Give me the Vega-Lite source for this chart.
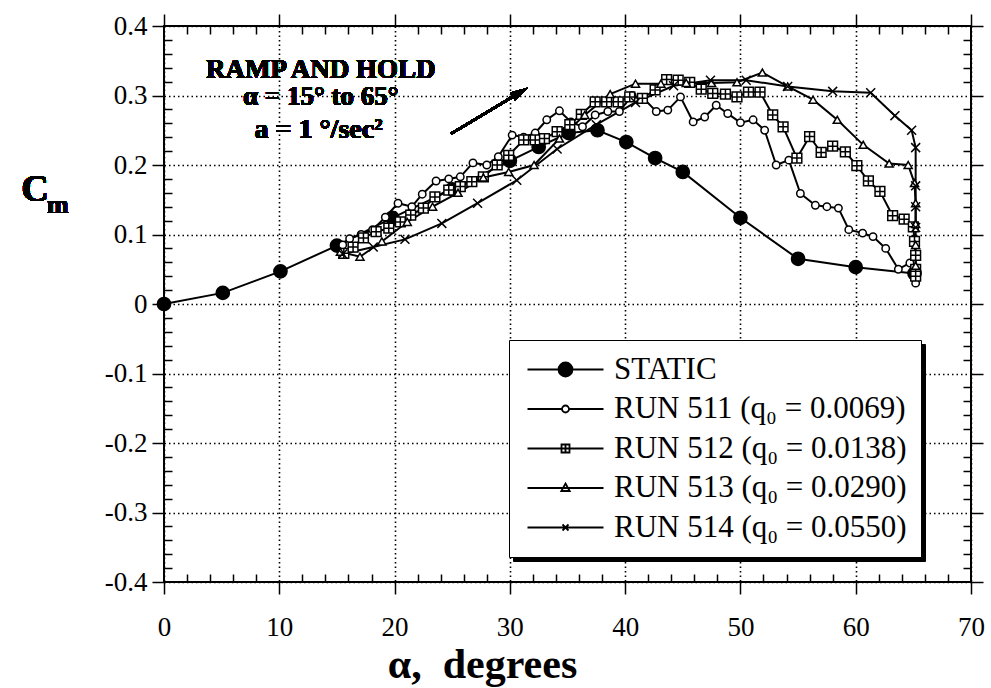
{
  "$schema": "https://vega.github.io/schema/vega-lite/v6.json",
  "width": 807,
  "height": 556,
  "autosize": {"type": "none"},
  "padding": {"left": 164, "top": 26, "right": 20, "bottom": 106},
  "background": "white",
  "config": {
    "view": {"stroke": "black", "strokeWidth": 2},
    "font": "Liberation Serif",
    "axis": {"labelFont": "Liberation Serif", "titleFont": "Liberation Serif"},
    "legend": {"labelFont": "Liberation Serif"}
  },
  "datasets": {
    "pts": [
      {"series": "STATIC", "i": 0, "alpha": 0, "cm": 0},
      {"series": "STATIC", "i": 1, "alpha": 5.1, "cm": 0.016},
      {"series": "STATIC", "i": 2, "alpha": 10.1, "cm": 0.047},
      {"series": "STATIC", "i": 3, "alpha": 15.0, "cm": 0.084},
      {"series": "STATIC", "i": 4, "alpha": 19.8, "cm": 0.124},
      {"series": "STATIC", "i": 5, "alpha": 25.0, "cm": 0.165},
      {"series": "STATIC", "i": 6, "alpha": 30.0, "cm": 0.206},
      {"series": "STATIC", "i": 7, "alpha": 32.5, "cm": 0.226},
      {"series": "STATIC", "i": 8, "alpha": 35.1, "cm": 0.246},
      {"series": "STATIC", "i": 9, "alpha": 37.6, "cm": 0.25},
      {"series": "STATIC", "i": 10, "alpha": 40.1, "cm": 0.233},
      {"series": "STATIC", "i": 11, "alpha": 42.6, "cm": 0.21},
      {"series": "STATIC", "i": 12, "alpha": 45.0, "cm": 0.19},
      {"series": "STATIC", "i": 13, "alpha": 50.0, "cm": 0.124},
      {"series": "STATIC", "i": 14, "alpha": 55.0, "cm": 0.065},
      {"series": "STATIC", "i": 15, "alpha": 60.0, "cm": 0.053},
      {"series": "STATIC", "i": 16, "alpha": 65.1, "cm": 0.044},

      {"series": "RUN 511 (q₀ = 0.0069)", "i": 0, "alpha": 15.5, "cm": 0.085},
      {"series": "RUN 511 (q₀ = 0.0069)", "i": 1, "alpha": 16.1, "cm": 0.094},
      {"series": "RUN 511 (q₀ = 0.0069)", "i": 2, "alpha": 17.1, "cm": 0.1},
      {"series": "RUN 511 (q₀ = 0.0069)", "i": 3, "alpha": 18.1, "cm": 0.107},
      {"series": "RUN 511 (q₀ = 0.0069)", "i": 4, "alpha": 19.2, "cm": 0.125},
      {"series": "RUN 511 (q₀ = 0.0069)", "i": 5, "alpha": 20.3, "cm": 0.145},
      {"series": "RUN 511 (q₀ = 0.0069)", "i": 6, "alpha": 21.5, "cm": 0.14},
      {"series": "RUN 511 (q₀ = 0.0069)", "i": 7, "alpha": 22.4, "cm": 0.158},
      {"series": "RUN 511 (q₀ = 0.0069)", "i": 8, "alpha": 23.6, "cm": 0.177},
      {"series": "RUN 511 (q₀ = 0.0069)", "i": 9, "alpha": 24.7, "cm": 0.18},
      {"series": "RUN 511 (q₀ = 0.0069)", "i": 10, "alpha": 25.7, "cm": 0.183},
      {"series": "RUN 511 (q₀ = 0.0069)", "i": 11, "alpha": 26.8, "cm": 0.203},
      {"series": "RUN 511 (q₀ = 0.0069)", "i": 12, "alpha": 28.0, "cm": 0.2},
      {"series": "RUN 511 (q₀ = 0.0069)", "i": 13, "alpha": 29.0, "cm": 0.212},
      {"series": "RUN 511 (q₀ = 0.0069)", "i": 14, "alpha": 30.2, "cm": 0.243},
      {"series": "RUN 511 (q₀ = 0.0069)", "i": 15, "alpha": 31.2, "cm": 0.24},
      {"series": "RUN 511 (q₀ = 0.0069)", "i": 16, "alpha": 32.2, "cm": 0.246},
      {"series": "RUN 511 (q₀ = 0.0069)", "i": 17, "alpha": 33.2, "cm": 0.265},
      {"series": "RUN 511 (q₀ = 0.0069)", "i": 18, "alpha": 34.3, "cm": 0.278},
      {"series": "RUN 511 (q₀ = 0.0069)", "i": 19, "alpha": 35.3, "cm": 0.262},
      {"series": "RUN 511 (q₀ = 0.0069)", "i": 20, "alpha": 36.3, "cm": 0.255},
      {"series": "RUN 511 (q₀ = 0.0069)", "i": 21, "alpha": 37.4, "cm": 0.272},
      {"series": "RUN 511 (q₀ = 0.0069)", "i": 22, "alpha": 38.5, "cm": 0.277},
      {"series": "RUN 511 (q₀ = 0.0069)", "i": 23, "alpha": 39.5, "cm": 0.277},
      {"series": "RUN 511 (q₀ = 0.0069)", "i": 24, "alpha": 40.6, "cm": 0.3},
      {"series": "RUN 511 (q₀ = 0.0069)", "i": 25, "alpha": 41.6, "cm": 0.296},
      {"series": "RUN 511 (q₀ = 0.0069)", "i": 26, "alpha": 42.7, "cm": 0.277},
      {"series": "RUN 511 (q₀ = 0.0069)", "i": 27, "alpha": 43.7, "cm": 0.279},
      {"series": "RUN 511 (q₀ = 0.0069)", "i": 28, "alpha": 44.8, "cm": 0.298},
      {"series": "RUN 511 (q₀ = 0.0069)", "i": 29, "alpha": 45.9, "cm": 0.262},
      {"series": "RUN 511 (q₀ = 0.0069)", "i": 30, "alpha": 46.9, "cm": 0.269},
      {"series": "RUN 511 (q₀ = 0.0069)", "i": 31, "alpha": 47.9, "cm": 0.286},
      {"series": "RUN 511 (q₀ = 0.0069)", "i": 32, "alpha": 48.9, "cm": 0.274},
      {"series": "RUN 511 (q₀ = 0.0069)", "i": 33, "alpha": 50.0, "cm": 0.261},
      {"series": "RUN 511 (q₀ = 0.0069)", "i": 34, "alpha": 51.1, "cm": 0.265},
      {"series": "RUN 511 (q₀ = 0.0069)", "i": 35, "alpha": 52.1, "cm": 0.25},
      {"series": "RUN 511 (q₀ = 0.0069)", "i": 36, "alpha": 53.1, "cm": 0.2},
      {"series": "RUN 511 (q₀ = 0.0069)", "i": 37, "alpha": 54.2, "cm": 0.207},
      {"series": "RUN 511 (q₀ = 0.0069)", "i": 38, "alpha": 55.2, "cm": 0.159},
      {"series": "RUN 511 (q₀ = 0.0069)", "i": 39, "alpha": 56.5, "cm": 0.142},
      {"series": "RUN 511 (q₀ = 0.0069)", "i": 40, "alpha": 57.5, "cm": 0.14},
      {"series": "RUN 511 (q₀ = 0.0069)", "i": 41, "alpha": 58.5, "cm": 0.138},
      {"series": "RUN 511 (q₀ = 0.0069)", "i": 42, "alpha": 59.4, "cm": 0.107},
      {"series": "RUN 511 (q₀ = 0.0069)", "i": 43, "alpha": 60.6, "cm": 0.102},
      {"series": "RUN 511 (q₀ = 0.0069)", "i": 44, "alpha": 61.5, "cm": 0.097},
      {"series": "RUN 511 (q₀ = 0.0069)", "i": 45, "alpha": 62.6, "cm": 0.08},
      {"series": "RUN 511 (q₀ = 0.0069)", "i": 46, "alpha": 63.7, "cm": 0.05},
      {"series": "RUN 511 (q₀ = 0.0069)", "i": 47, "alpha": 64.7, "cm": 0.059},
      {"series": "RUN 511 (q₀ = 0.0069)", "i": 48, "alpha": 65.1, "cm": 0.05},
      {"series": "RUN 511 (q₀ = 0.0069)", "i": 49, "alpha": 65.2, "cm": 0.04},
      {"series": "RUN 511 (q₀ = 0.0069)", "i": 50, "alpha": 65.2, "cm": 0.03},

      {"series": "RUN 512 (q₀ = 0.0138)", "i": 0, "alpha": 15.6, "cm": 0.073},
      {"series": "RUN 512 (q₀ = 0.0138)", "i": 1, "alpha": 16.4, "cm": 0.082},
      {"series": "RUN 512 (q₀ = 0.0138)", "i": 2, "alpha": 17.3, "cm": 0.095},
      {"series": "RUN 512 (q₀ = 0.0138)", "i": 3, "alpha": 18.4, "cm": 0.104},
      {"series": "RUN 512 (q₀ = 0.0138)", "i": 4, "alpha": 19.5, "cm": 0.109},
      {"series": "RUN 512 (q₀ = 0.0138)", "i": 5, "alpha": 20.5, "cm": 0.118},
      {"series": "RUN 512 (q₀ = 0.0138)", "i": 6, "alpha": 21.4, "cm": 0.128},
      {"series": "RUN 512 (q₀ = 0.0138)", "i": 7, "alpha": 22.5, "cm": 0.138},
      {"series": "RUN 512 (q₀ = 0.0138)", "i": 8, "alpha": 23.5, "cm": 0.154},
      {"series": "RUN 512 (q₀ = 0.0138)", "i": 9, "alpha": 24.7, "cm": 0.164},
      {"series": "RUN 512 (q₀ = 0.0138)", "i": 10, "alpha": 25.7, "cm": 0.169},
      {"series": "RUN 512 (q₀ = 0.0138)", "i": 11, "alpha": 26.7, "cm": 0.176},
      {"series": "RUN 512 (q₀ = 0.0138)", "i": 12, "alpha": 27.7, "cm": 0.183},
      {"series": "RUN 512 (q₀ = 0.0138)", "i": 13, "alpha": 28.9, "cm": 0.2},
      {"series": "RUN 512 (q₀ = 0.0138)", "i": 14, "alpha": 29.9, "cm": 0.214},
      {"series": "RUN 512 (q₀ = 0.0138)", "i": 15, "alpha": 31.2, "cm": 0.236},
      {"series": "RUN 512 (q₀ = 0.0138)", "i": 16, "alpha": 32.2, "cm": 0.236},
      {"series": "RUN 512 (q₀ = 0.0138)", "i": 17, "alpha": 33.0, "cm": 0.238},
      {"series": "RUN 512 (q₀ = 0.0138)", "i": 18, "alpha": 34.1, "cm": 0.248},
      {"series": "RUN 512 (q₀ = 0.0138)", "i": 19, "alpha": 35.2, "cm": 0.258},
      {"series": "RUN 512 (q₀ = 0.0138)", "i": 20, "alpha": 36.2, "cm": 0.273},
      {"series": "RUN 512 (q₀ = 0.0138)", "i": 21, "alpha": 37.4, "cm": 0.291},
      {"series": "RUN 512 (q₀ = 0.0138)", "i": 22, "alpha": 38.4, "cm": 0.291},
      {"series": "RUN 512 (q₀ = 0.0138)", "i": 23, "alpha": 39.4, "cm": 0.291},
      {"series": "RUN 512 (q₀ = 0.0138)", "i": 24, "alpha": 40.4, "cm": 0.298},
      {"series": "RUN 512 (q₀ = 0.0138)", "i": 25, "alpha": 41.5, "cm": 0.296},
      {"series": "RUN 512 (q₀ = 0.0138)", "i": 26, "alpha": 42.6, "cm": 0.308},
      {"series": "RUN 512 (q₀ = 0.0138)", "i": 27, "alpha": 43.6, "cm": 0.323},
      {"series": "RUN 512 (q₀ = 0.0138)", "i": 28, "alpha": 44.6, "cm": 0.322},
      {"series": "RUN 512 (q₀ = 0.0138)", "i": 29, "alpha": 45.6, "cm": 0.319},
      {"series": "RUN 512 (q₀ = 0.0138)", "i": 30, "alpha": 46.6, "cm": 0.309},
      {"series": "RUN 512 (q₀ = 0.0138)", "i": 31, "alpha": 47.6, "cm": 0.303},
      {"series": "RUN 512 (q₀ = 0.0138)", "i": 32, "alpha": 48.7, "cm": 0.302},
      {"series": "RUN 512 (q₀ = 0.0138)", "i": 33, "alpha": 49.7, "cm": 0.298},
      {"series": "RUN 512 (q₀ = 0.0138)", "i": 34, "alpha": 50.7, "cm": 0.305},
      {"series": "RUN 512 (q₀ = 0.0138)", "i": 35, "alpha": 51.7, "cm": 0.305},
      {"series": "RUN 512 (q₀ = 0.0138)", "i": 36, "alpha": 52.8, "cm": 0.272},
      {"series": "RUN 512 (q₀ = 0.0138)", "i": 37, "alpha": 53.7, "cm": 0.255},
      {"series": "RUN 512 (q₀ = 0.0138)", "i": 38, "alpha": 54.9, "cm": 0.21},
      {"series": "RUN 512 (q₀ = 0.0138)", "i": 39, "alpha": 56.0, "cm": 0.241},
      {"series": "RUN 512 (q₀ = 0.0138)", "i": 40, "alpha": 57.0, "cm": 0.218},
      {"series": "RUN 512 (q₀ = 0.0138)", "i": 41, "alpha": 58.0, "cm": 0.227},
      {"series": "RUN 512 (q₀ = 0.0138)", "i": 42, "alpha": 59.1, "cm": 0.219},
      {"series": "RUN 512 (q₀ = 0.0138)", "i": 43, "alpha": 60.1, "cm": 0.199},
      {"series": "RUN 512 (q₀ = 0.0138)", "i": 44, "alpha": 61.1, "cm": 0.177},
      {"series": "RUN 512 (q₀ = 0.0138)", "i": 45, "alpha": 62.1, "cm": 0.162},
      {"series": "RUN 512 (q₀ = 0.0138)", "i": 46, "alpha": 63.2, "cm": 0.127},
      {"series": "RUN 512 (q₀ = 0.0138)", "i": 47, "alpha": 64.2, "cm": 0.122},
      {"series": "RUN 512 (q₀ = 0.0138)", "i": 48, "alpha": 65.0, "cm": 0.111},
      {"series": "RUN 512 (q₀ = 0.0138)", "i": 49, "alpha": 65.1, "cm": 0.09},
      {"series": "RUN 512 (q₀ = 0.0138)", "i": 50, "alpha": 65.2, "cm": 0.07},
      {"series": "RUN 512 (q₀ = 0.0138)", "i": 51, "alpha": 65.2, "cm": 0.05},
      {"series": "RUN 512 (q₀ = 0.0138)", "i": 52, "alpha": 65.2, "cm": 0.04},

      {"series": "RUN 513 (q₀ = 0.0290)", "i": 0, "alpha": 15.3, "cm": 0.075},
      {"series": "RUN 513 (q₀ = 0.0290)", "i": 1, "alpha": 17.0, "cm": 0.068},
      {"series": "RUN 513 (q₀ = 0.0290)", "i": 2, "alpha": 18.9, "cm": 0.09},
      {"series": "RUN 513 (q₀ = 0.0290)", "i": 3, "alpha": 21.1, "cm": 0.118},
      {"series": "RUN 513 (q₀ = 0.0290)", "i": 4, "alpha": 23.3, "cm": 0.14},
      {"series": "RUN 513 (q₀ = 0.0290)", "i": 5, "alpha": 25.5, "cm": 0.16},
      {"series": "RUN 513 (q₀ = 0.0290)", "i": 6, "alpha": 27.7, "cm": 0.182},
      {"series": "RUN 513 (q₀ = 0.0290)", "i": 7, "alpha": 29.9, "cm": 0.19},
      {"series": "RUN 513 (q₀ = 0.0290)", "i": 8, "alpha": 32.1, "cm": 0.2},
      {"series": "RUN 513 (q₀ = 0.0290)", "i": 9, "alpha": 34.3, "cm": 0.238},
      {"series": "RUN 513 (q₀ = 0.0290)", "i": 10, "alpha": 36.5, "cm": 0.272},
      {"series": "RUN 513 (q₀ = 0.0290)", "i": 11, "alpha": 38.7, "cm": 0.302},
      {"series": "RUN 513 (q₀ = 0.0290)", "i": 12, "alpha": 40.9, "cm": 0.317},
      {"series": "RUN 513 (q₀ = 0.0290)", "i": 13, "alpha": 43.1, "cm": 0.317},
      {"series": "RUN 513 (q₀ = 0.0290)", "i": 14, "alpha": 45.3, "cm": 0.318},
      {"series": "RUN 513 (q₀ = 0.0290)", "i": 15, "alpha": 47.5, "cm": 0.318},
      {"series": "RUN 513 (q₀ = 0.0290)", "i": 16, "alpha": 49.7, "cm": 0.319},
      {"series": "RUN 513 (q₀ = 0.0290)", "i": 17, "alpha": 51.9, "cm": 0.333},
      {"series": "RUN 513 (q₀ = 0.0290)", "i": 18, "alpha": 54.1, "cm": 0.313},
      {"series": "RUN 513 (q₀ = 0.0290)", "i": 19, "alpha": 56.3, "cm": 0.294},
      {"series": "RUN 513 (q₀ = 0.0290)", "i": 20, "alpha": 58.4, "cm": 0.265},
      {"series": "RUN 513 (q₀ = 0.0290)", "i": 21, "alpha": 60.65, "cm": 0.229},
      {"series": "RUN 513 (q₀ = 0.0290)", "i": 22, "alpha": 62.9, "cm": 0.202},
      {"series": "RUN 513 (q₀ = 0.0290)", "i": 23, "alpha": 64.55, "cm": 0.2},
      {"series": "RUN 513 (q₀ = 0.0290)", "i": 24, "alpha": 65.1, "cm": 0.174},
      {"series": "RUN 513 (q₀ = 0.0290)", "i": 25, "alpha": 65.2, "cm": 0.145},
      {"series": "RUN 513 (q₀ = 0.0290)", "i": 26, "alpha": 65.2, "cm": 0.115},
      {"series": "RUN 513 (q₀ = 0.0290)", "i": 27, "alpha": 65.2, "cm": 0.085},
      {"series": "RUN 513 (q₀ = 0.0290)", "i": 28, "alpha": 65.2, "cm": 0.055},

      {"series": "RUN 514 (q₀ = 0.0550)", "i": 0, "alpha": 15.5, "cm": 0.072},
      {"series": "RUN 514 (q₀ = 0.0550)", "i": 1, "alpha": 18.15, "cm": 0.082},
      {"series": "RUN 514 (q₀ = 0.0550)", "i": 2, "alpha": 20.9, "cm": 0.093},
      {"series": "RUN 514 (q₀ = 0.0550)", "i": 3, "alpha": 24.1, "cm": 0.116},
      {"series": "RUN 514 (q₀ = 0.0550)", "i": 4, "alpha": 27.2, "cm": 0.145},
      {"series": "RUN 514 (q₀ = 0.0550)", "i": 5, "alpha": 30.6, "cm": 0.178},
      {"series": "RUN 514 (q₀ = 0.0550)", "i": 6, "alpha": 34.1, "cm": 0.223},
      {"series": "RUN 514 (q₀ = 0.0550)", "i": 7, "alpha": 37.5, "cm": 0.258},
      {"series": "RUN 514 (q₀ = 0.0550)", "i": 8, "alpha": 40.9, "cm": 0.29},
      {"series": "RUN 514 (q₀ = 0.0550)", "i": 9, "alpha": 44.2, "cm": 0.314},
      {"series": "RUN 514 (q₀ = 0.0550)", "i": 10, "alpha": 47.4, "cm": 0.322},
      {"series": "RUN 514 (q₀ = 0.0550)", "i": 11, "alpha": 50.5, "cm": 0.322},
      {"series": "RUN 514 (q₀ = 0.0550)", "i": 12, "alpha": 54.1, "cm": 0.313},
      {"series": "RUN 514 (q₀ = 0.0550)", "i": 13, "alpha": 58.0, "cm": 0.306},
      {"series": "RUN 514 (q₀ = 0.0550)", "i": 14, "alpha": 61.3, "cm": 0.304},
      {"series": "RUN 514 (q₀ = 0.0550)", "i": 15, "alpha": 63.4, "cm": 0.271},
      {"series": "RUN 514 (q₀ = 0.0550)", "i": 16, "alpha": 64.85, "cm": 0.25},
      {"series": "RUN 514 (q₀ = 0.0550)", "i": 17, "alpha": 65.2, "cm": 0.225},
      {"series": "RUN 514 (q₀ = 0.0550)", "i": 18, "alpha": 65.2, "cm": 0.17},
      {"series": "RUN 514 (q₀ = 0.0550)", "i": 19, "alpha": 65.2, "cm": 0.14},
      {"series": "RUN 514 (q₀ = 0.0550)", "i": 20, "alpha": 65.2, "cm": 0.11}
    ]
  },
  "data": {"name": "pts"},
  "layer": [
    {
      "mark": {"type": "line", "color": "black", "strokeWidth": 2},
      "encoding": {
        "x": {
          "field": "alpha", "type": "quantitative",
          "scale": {"domain": [0, 70], "nice": false, "zero": false},
          "axis": {
            "orient": "bottom",
            "values": [0,2,4,6,8,10,12,14,16,18,20,22,24,26,28,30,32,34,36,38,40,42,44,46,48,50,52,54,56,58,60,62,64,66,68,70],
            "labelExpr": "datum.value % 10 === 0 ? datum.label : ''",
            "tickSize": {"condition": {"test": "datum.value % 10 === 0", "value": 12}, "value": -8},
            "tickColor": "black", "tickWidth": 1.5,
            "grid": true,
            "gridOpacity": {"condition": {"test": "datum.value % 10 === 0", "value": 1}, "value": 0},
            "gridColor": "black", "gridDash": [1.5, 3], "gridWidth": 1.6,
            "domain": false,
            "labelFont": "Liberation Serif", "labelFontSize": 27, "labelColor": "black",
            "labelPadding": 20, "labelFlush": false, "labelOverlap": false,
            "title": "α,\u00a0\u00a0degrees",
            "titleFont": "Liberation Serif", "titleFontSize": 42, "titleFontWeight": "bold", "titleColor": "black",
            "titleX": 318, "titleY": 82, "titleBaseline": "middle", "titleAlign": "center", "titleAnchor": null
          }
        },
        "y": {
          "field": "cm", "type": "quantitative",
          "scale": {"domain": [-0.4, 0.4], "nice": false, "zero": false},
          "axis": {
            "orient": "left",
            "values": [-0.4,-0.38,-0.36,-0.34,-0.32,-0.3,-0.28,-0.26,-0.24,-0.22,-0.2,-0.18,-0.16,-0.14,-0.12,-0.1,-0.08,-0.06,-0.04,-0.02,0,0.02,0.04,0.06,0.08,0.1,0.12,0.14,0.16,0.18,0.2,0.22,0.24,0.26,0.28,0.3,0.32,0.34,0.36,0.38,0.4],
            "labelExpr": "abs(datum.value*10 - round(datum.value*10)) < 0.001 ? ((datum.value < -0.001 ? '-' : '') + (abs(datum.value) < 0.001 ? '0' : format(abs(datum.value), '.1f'))) : ''",
            "tickSize": {"condition": {"test": "abs(datum.value*10 - round(datum.value*10)) < 0.001", "value": 12}, "value": -8},
            "tickColor": "black", "tickWidth": 1.5,
            "grid": true,
            "gridOpacity": {"condition": {"test": "abs(datum.value*10 - round(datum.value*10)) < 0.001", "value": 1}, "value": 0},
            "gridColor": "black", "gridDash": [1.5, 3], "gridWidth": 1.6,
            "domain": false,
            "labelFont": "Liberation Serif", "labelFontSize": 27, "labelColor": "black",
            "labelPadding": 5, "labelFlush": false, "labelOverlap": false,
            "title": null
          }
        },
        "detail": {"field": "series"},
        "order": {"field": "i", "type": "quantitative"}
      }
    },
    {
      "mark": {"type": "point", "stroke": "black", "strokeWidth": 1.5, "opacity": 1},
      "encoding": {
        "x": {
          "field": "alpha", "type": "quantitative",
          "scale": {"domain": [0, 70], "nice": false, "zero": false},
          "axis": {
            "orient": "top",
            "values": [0,2,4,6,8,10,12,14,16,18,20,22,24,26,28,30,32,34,36,38,40,42,44,46,48,50,52,54,56,58,60,62,64,66,68,70],
            "labels": false,
            "tickSize": {"condition": {"test": "datum.value % 10 === 0", "value": 12}, "value": -8},
            "tickColor": "black", "tickWidth": 1.5,
            "grid": false, "domain": false, "title": null
          }
        },
        "y": {
          "field": "cm", "type": "quantitative",
          "scale": {"domain": [-0.4, 0.4], "nice": false, "zero": false},
          "axis": {
            "orient": "right",
            "values": [-0.4,-0.38,-0.36,-0.34,-0.32,-0.3,-0.28,-0.26,-0.24,-0.22,-0.2,-0.18,-0.16,-0.14,-0.12,-0.1,-0.08,-0.06,-0.04,-0.02,0,0.02,0.04,0.06,0.08,0.1,0.12,0.14,0.16,0.18,0.2,0.22,0.24,0.26,0.28,0.3,0.32,0.34,0.36,0.38,0.4],
            "labels": false,
            "tickSize": {"condition": {"test": "abs(datum.value*10 - round(datum.value*10)) < 0.001", "value": 12}, "value": -8},
            "tickColor": "black", "tickWidth": 1.5,
            "grid": false, "domain": false, "title": null
          }
        },
        "shape": {
          "field": "series", "type": "nominal",
          "scale": {
            "domain": ["STATIC", "RUN 511 (q₀ = 0.0069)", "RUN 512 (q₀ = 0.0138)", "RUN 513 (q₀ = 0.0290)", "RUN 514 (q₀ = 0.0550)"],
            "range": ["circle", "circle", "M-1,-1H1V1H-1ZM0,-1V1M-1,0H1", "triangle-up", "M-1,-1L1,1M-1,1L1,-1"]
          },
          "legend": null
        },
        "fill": {
          "field": "series", "type": "nominal",
          "scale": {
            "domain": ["STATIC", "RUN 511 (q₀ = 0.0069)", "RUN 512 (q₀ = 0.0138)", "RUN 513 (q₀ = 0.0290)", "RUN 514 (q₀ = 0.0550)"],
            "range": ["black", "white", "white", "white", "white"]
          },
          "legend": null
        },
        "size": {
          "field": "series", "type": "nominal",
          "scale": {
            "type": "ordinal",
            "domain": ["STATIC", "RUN 511 (q₀ = 0.0069)", "RUN 512 (q₀ = 0.0138)", "RUN 513 (q₀ = 0.0290)", "RUN 514 (q₀ = 0.0550)"],
            "range": [175, 55, 95, 65, 80]
          },
          "legend": null
        }
      }
    },
    {
      "mark": {"type": "point", "stroke": "black", "strokeWidth": 1.5, "opacity": 0},
      "encoding": {
        "x": {"field": "alpha", "type": "quantitative", "scale": {"domain": [0, 70], "nice": false, "zero": false}, "axis": null},
        "y": {"field": "cm", "type": "quantitative", "scale": {"domain": [-0.4, 0.4], "nice": false, "zero": false}, "axis": null},
        "shape": {
          "field": "series", "type": "nominal",
          "scale": {
            "domain": ["STATIC", "RUN 511 (q₀ = 0.0069)", "RUN 512 (q₀ = 0.0138)", "RUN 513 (q₀ = 0.0290)", "RUN 514 (q₀ = 0.0550)"],
            "range": ["square", "square", "square", "square", "square"]
          },
          "legend": {
            "orient": "none", "legendX": 349, "legendY": 318, "direction": "vertical",
            "title": null,
            "symbolSize": 400, "symbolOffset": 27, "labelOffset": 33,
            "symbolFillColor": "black", "symbolStrokeColor": "black", "symbolOpacity": 1,
            "labelFont": "Liberation Serif", "labelFontSize": 31, "labelColor": "black", "labelLimit": 0,
            "rowPadding": 7.5, "padding": 14,
            "strokeColor": "black", "fillColor": "black", "cornerRadius": 0
          }
        }
      }
    },
    {
      "mark": {"type": "point", "strokeWidth": 1.8, "opacity": 0},
      "encoding": {
        "x": {"field": "alpha", "type": "quantitative", "scale": {"domain": [0, 70], "nice": false, "zero": false}, "axis": null},
        "y": {"field": "cm", "type": "quantitative", "scale": {"domain": [-0.4, 0.4], "nice": false, "zero": false}, "axis": null},
        "shape": {
          "field": "series", "type": "nominal",
          "scale": {
            "domain": ["STATIC", "RUN 511 (q₀ = 0.0069)", "RUN 512 (q₀ = 0.0138)", "RUN 513 (q₀ = 0.0290)", "RUN 514 (q₀ = 0.0550)"],
            "range": [
              "M-3.8,0H3.8M-0.7,0A0.7,0.7,0,1,1,0.7,0A0.7,0.7,0,1,1,-0.7,0Z",
              "M-3.8,0H-0.35M0.35,0H3.8M-0.35,0A0.35,0.35,0,1,1,0.35,0A0.35,0.35,0,1,1,-0.35,0Z",
              "M-3.8,0H-0.4M0.4,0H3.8M-0.4,-0.4H0.4V0.4H-0.4ZM0,-0.4V0.4M-0.4,0H0.4",
              "M-3.8,0H3.8M0,-0.45L0.42,0.3H-0.42Z",
              "M-3.8,0H3.8M-0.3,-0.3L0.3,0.3M-0.3,0.3L0.3,-0.3"
            ]
          },
          "legend": {
            "orient": "none", "legendX": 345, "legendY": 314, "direction": "vertical",
            "title": null,
            "symbolSize": 400, "symbolStrokeWidth": 1.8, "symbolOpacity": 1,
            "symbolOffset": 27, "labelOffset": 33,
            "labelFont": "Liberation Serif", "labelFontSize": 31, "labelColor": "black", "labelLimit": 0,
            "rowPadding": 7.5, "padding": 14,
            "strokeColor": "black", "fillColor": "white", "cornerRadius": 0
          }
        },
        "fill": {
          "field": "series", "type": "nominal",
          "scale": {
            "domain": ["STATIC", "RUN 511 (q₀ = 0.0069)", "RUN 512 (q₀ = 0.0138)", "RUN 513 (q₀ = 0.0290)", "RUN 514 (q₀ = 0.0550)"],
            "range": ["black", "white", "white", "white", "white"]
          }
        },
        "stroke": {
          "field": "series", "type": "nominal",
          "scale": {
            "domain": ["STATIC", "RUN 511 (q₀ = 0.0069)", "RUN 512 (q₀ = 0.0138)", "RUN 513 (q₀ = 0.0290)", "RUN 514 (q₀ = 0.0550)"],
            "range": ["black", "black", "black", "black", "black"]
          }
        }
      }
    },
    {
      "mark": {"type": "rule", "color": "black", "strokeWidth": 2.5},
      "encoding": {
        "x": {"datum": 24.9, "type": "quantitative", "scale": {"domain": [0, 70], "nice": false, "zero": false}, "axis": null},
        "y": {"datum": 0.245, "type": "quantitative", "scale": {"domain": [-0.4, 0.4], "nice": false, "zero": false}, "axis": null},
        "x2": {"datum": 30.9},
        "y2": {"datum": 0.3047}
      }
    },
    {
      "mark": {"type": "point", "shape": "M0,-1L0.55,1L-0.55,1Z", "filled": true, "color": "black", "size": 300, "angle": 59, "opacity": 1},
      "encoding": {
        "x": {"datum": 30.9, "type": "quantitative", "scale": {"domain": [0, 70], "nice": false, "zero": false}, "axis": null},
        "y": {"datum": 0.3047, "type": "quantitative", "scale": {"domain": [-0.4, 0.4], "nice": false, "zero": false}, "axis": null}
      }
    },
    {
      "mark": {"type": "text", "text": "RAMP AND HOLD", "font": "Liberation Serif", "fontWeight": "bold", "fontSize": 27, "color": "black", "align": "center", "baseline": "middle"},
      "encoding": {
        "x": {"datum": 13.6, "type": "quantitative", "scale": {"domain": [0, 70], "nice": false, "zero": false}, "axis": null},
        "y": {"datum": 0.337, "type": "quantitative", "scale": {"domain": [-0.4, 0.4], "nice": false, "zero": false}, "axis": null}
      }
    },
    {
      "mark": {"type": "text", "text": "α = 15° to 65°", "font": "Liberation Serif", "fontWeight": "bold", "fontSize": 27, "color": "black", "align": "center", "baseline": "middle"},
      "encoding": {
        "x": {"datum": 13.6, "type": "quantitative", "scale": {"domain": [0, 70], "nice": false, "zero": false}, "axis": null},
        "y": {"datum": 0.298, "type": "quantitative", "scale": {"domain": [-0.4, 0.4], "nice": false, "zero": false}, "axis": null}
      }
    },
    {
      "mark": {"type": "text", "text": "a = 1 °/sec²", "font": "Liberation Serif", "fontWeight": "bold", "fontSize": 28, "color": "black", "align": "center", "baseline": "middle"},
      "encoding": {
        "x": {"datum": 13.4, "type": "quantitative", "scale": {"domain": [0, 70], "nice": false, "zero": false}, "axis": null},
        "y": {"datum": 0.25, "type": "quantitative", "scale": {"domain": [-0.4, 0.4], "nice": false, "zero": false}, "axis": null}
      }
    },
    {
      "mark": {"type": "text", "text": "C", "font": "Liberation Serif", "fontWeight": "bold", "fontSize": 38, "color": "black", "align": "center", "baseline": "middle"},
      "encoding": {
        "x": {"datum": -11.2, "type": "quantitative", "scale": {"domain": [0, 70], "nice": false, "zero": false}, "axis": null},
        "y": {"datum": 0.164, "type": "quantitative", "scale": {"domain": [-0.4, 0.4], "nice": false, "zero": false}, "axis": null}
      }
    },
    {
      "mark": {"type": "text", "text": "m", "font": "Liberation Serif", "fontWeight": "bold", "fontSize": 26, "color": "black", "align": "center", "baseline": "middle"},
      "encoding": {
        "x": {"datum": -9.2, "type": "quantitative", "scale": {"domain": [0, 70], "nice": false, "zero": false}, "axis": null},
        "y": {"datum": 0.143, "type": "quantitative", "scale": {"domain": [-0.4, 0.4], "nice": false, "zero": false}, "axis": null}
      }
    }
  ],
  "resolve": {
    "scale": {"shape": "independent", "fill": "independent", "size": "independent", "stroke": "independent"},
    "axis": {"x": "independent", "y": "independent"}
  }
}
